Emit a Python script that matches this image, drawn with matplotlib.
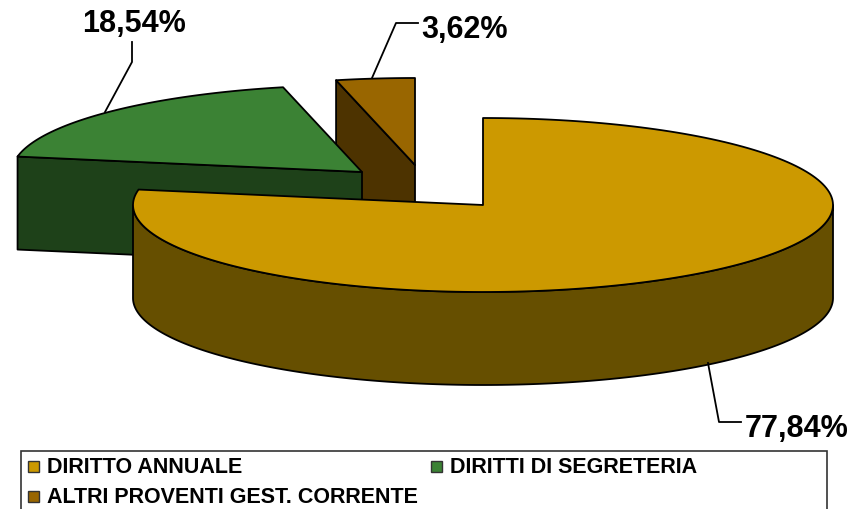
import numpy as np
import matplotlib
matplotlib.use('Agg')
import matplotlib.pyplot as plt
from matplotlib.patches import Polygon, Rectangle

plt.rcParams['font.family'] = ['Liberation Sans', 'DejaVu Sans']

# Values.
categories = ['DIRITTO ANNUALE', 'DIRITTI DI SEGRETERIA', 'ALTRI PROVENTI GEST. CORRENTE']
values = [77.84, 18.54, 3.62]
labels = ['77,84%', '18,54%', '3,62%']

top_colors = ['#CC9900', '#3B8234', '#996600']
side_colors = ['#664F00', '#1E4119', '#4D3300']
# Slice centres, each slice is pulled away from the others.
centers = [(483, 206), (362, 173), (415, 166)]

rx = 350
ry = 87
depth = 93


def rim(center, a, b):
    # Points on the ellipse, angles clockwise from 12 o'clock.
    t = np.radians(np.linspace(a, b, 200))
    return np.column_stack([center[0] + rx * np.sin(t), center[1] - ry * np.cos(t)])


def poly(ax, points, color):
    ax.add_patch(Polygon(points, closed=True, facecolor=color, edgecolor='black', linewidth=1.3, joinstyle='round'))


fig = plt.figure(figsize=(8.52, 5.10), dpi=100)
ax = fig.add_axes([0, 0, 1, 1])
ax.set_xlim(0, 852)
ax.set_ylim(510, 0)
ax.axis('off')

# Slice angles from the values.
stops = np.cumsum([0] + values) * 3.6

# Small slice first, big one last, so the big one overlaps the others.
for i in [2, 1, 0]:
    c = np.array(centers[i])
    a, b = stops[i], stops[i + 1]
    if i == 0:
        # Curved wall of the big slice, front half only.
        front = rim(c, 90, min(b, 270))
        poly(ax, np.vstack([front, (front + [0, depth])[::-1]]), side_colors[i])
    else:
        # Cut wall from the centre to the start of the arc.
        edge = np.array([c, rim(c, a, a)[0]])
        poly(ax, np.vstack([edge, (edge + [0, depth])[::-1]]), side_colors[i])
    poly(ax, np.vstack([c, rim(c, a, b)]), top_colors[i])

# Data labels with leader lines.
ax.plot([708, 719, 741], [364, 423, 423], color='black', lw=1.3)
ax.plot([132, 132, 105], [43, 63, 113], color='black', lw=1.3)
ax.plot([418, 396, 372], [24, 24, 79], color='black', lw=1.3)
ax.text(797, 429, labels[0], fontsize=22, fontweight='bold', ha='center', va='center')
ax.text(134, 24, labels[1], fontsize=22, fontweight='bold', ha='center', va='center')
ax.text(465, 30, labels[2], fontsize=22, fontweight='bold', ha='center', va='center')

# Legend box runs off the bottom of the picture.
ax.add_patch(Rectangle((21, 452), 806, 70, facecolor='white', edgecolor='#333333', linewidth=1.2))
legend_pos = [(28, 467), (431, 467), (28, 497)]
for name, color, (x, y) in zip(categories, top_colors, legend_pos):
    ax.add_patch(Rectangle((x, y - 5), 11, 11, facecolor=color, edgecolor='#333333', linewidth=1))
    ax.text(x + 19, y + 1, name, fontsize=15.5, fontweight='bold', ha='left', va='center')

fig.savefig('out.png', dpi=100)
